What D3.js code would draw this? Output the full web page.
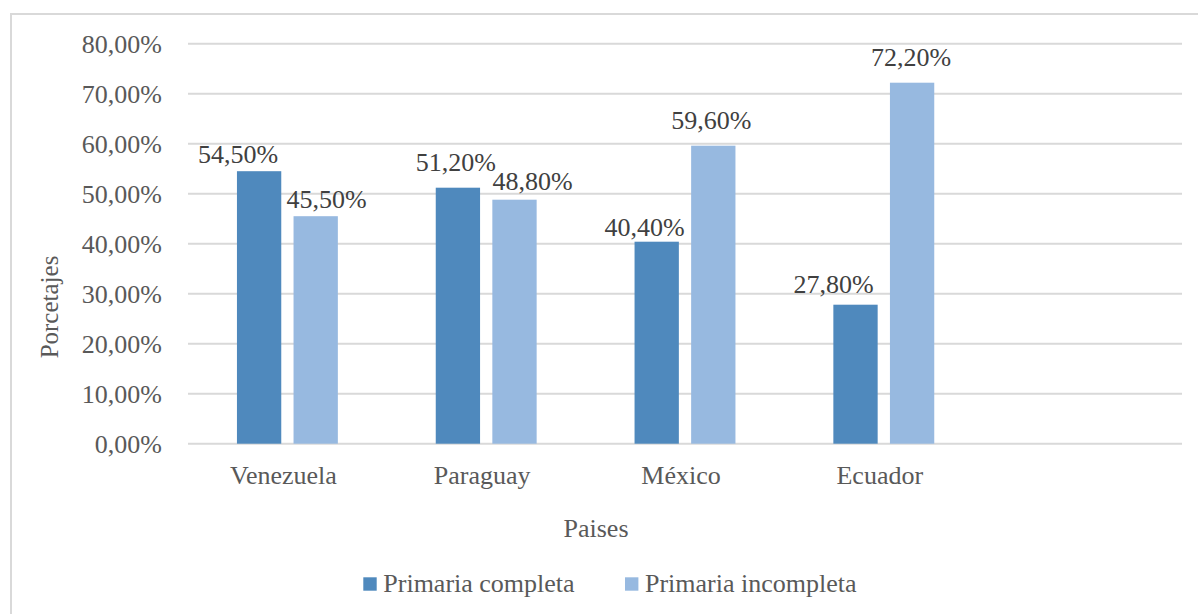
<!DOCTYPE html>
<html>
<head>
<meta charset="utf-8">
<script src="https://cdn.jsdelivr.net/npm/d3@7/dist/d3.min.js"></script>
<style>
  html, body { margin: 0; padding: 0; background: #ffffff; }
  svg { display: block; }
  text { font-family: "Liberation Serif", "Times New Roman", serif; }
</style>
</head>
<body>
<svg id="chart" width="1198" height="614"></svg>
<script>
// ---- data ----
const categories = ["Venezuela", "Paraguay", "México", "Ecuador", ""];
const seriesNames = ["Primaria completa", "Primaria incompleta"];
const completa = [0.545, 0.512, 0.404, 0.278];
const incompleta = [0.455, 0.488, 0.596, 0.722];
const yTicks = [0, 0.1, 0.2, 0.3, 0.4, 0.5, 0.6, 0.7, 0.8];
// manual label nudges (as in the original chart)
const labelDxCompleta = [-21, -2, -12, -22];
const labelDxIncompleta = [11, 18, -2, -1];
const labelDyCompleta = [-8, -17, -6, -12];
const labelDyIncompleta = [-8, -10, -17, -17];

const colors = ["#4f89bd", "#97b9e0"];

const svg = d3.select("#chart");
const W = 1198, H = 614;
const plotLeft = 188, plotRight = 1182, plotTop = 43.7, plotBottom = 443.7;

svg.append("rect").attr("x", 0).attr("y", 0).attr("width", W).attr("height", H).attr("fill", "#fff");
// outer chart border
svg.append("rect").attr("x", 11).attr("y", 14).attr("width", W + 20).attr("height", H + 20)
  .attr("fill", "none").attr("stroke", "#d9d9d9").attr("stroke-width", 2);

const locale = d3.formatLocale({decimal: ",", thousands: ".", grouping: [3], currency: ["", "€"]});
const fmt = locale.format(".2%");

const x0 = d3.scaleBand().domain(categories).range([plotLeft, plotRight]).padding(0);
const x1 = d3.scaleBand().domain(seriesNames).range([0, x0.bandwidth()])
  .paddingInner(0.217).paddingOuter(0.865);
const y = d3.scaleLinear().domain([0, 0.8]).range([plotBottom, plotTop]);

// gridlines
svg.append("g").selectAll("line").data(yTicks).join("line")
  .attr("x1", plotLeft).attr("x2", plotRight)
  .attr("y1", d => y(d)).attr("y2", d => y(d))
  .attr("stroke", "#d9d9d9").attr("stroke-width", 2);

// y tick labels
const yAxis = d3.axisLeft(y).tickValues(yTicks).tickFormat(fmt).tickSize(0).tickPadding(0);
const gy = svg.append("g").attr("transform", `translate(162,0)`).call(yAxis);
gy.select(".domain").remove();
gy.selectAll("text").attr("font-size", 26).attr("fill", "#595959")
  .attr("font-family", "Liberation Serif, Times New Roman, serif")
  .attr("dy", "0.34em");

// x labels
const xAxis = d3.axisBottom(x0).tickSize(0).tickPadding(0);
const gx = svg.append("g").attr("transform", `translate(-4,${plotBottom})`).call(xAxis);
gx.select(".domain").remove();
gx.selectAll("text").attr("font-size", 26).attr("fill", "#595959")
  .attr("font-family", "Liberation Serif, Times New Roman, serif")
  .attr("y", 40).attr("dy", 0);

// bars
const seriesData = [completa, incompleta];
const dxs = [labelDxCompleta, labelDxIncompleta];
const dys = [labelDyCompleta, labelDyIncompleta];
seriesData.forEach((vals, si) => {
  const g = svg.append("g");
  g.selectAll("rect").data(vals).join("rect")
    .attr("x", (d, i) => x0(categories[i]) + x1(seriesNames[si]))
    .attr("y", d => y(d))
    .attr("width", x1.bandwidth())
    .attr("height", d => y(0) - y(d))
    .attr("fill", colors[si]);
  g.selectAll("text").data(vals).join("text")
    .attr("x", (d, i) => x0(categories[i]) + x1(seriesNames[si]) + x1.bandwidth() / 2 + dxs[si][i])
    .attr("y", (d, i) => y(d) + dys[si][i])
    .attr("text-anchor", "middle")
    .attr("font-size", 26).attr("fill", "#404040")
    .text(d => fmt(d));
});

// axis titles
svg.append("text").attr("x", 596).attr("y", 536.5).attr("text-anchor", "middle")
  .attr("font-size", 26).attr("fill", "#595959").text("Paises");
svg.append("text").attr("transform", "translate(58,307) rotate(-90)").attr("text-anchor", "middle")
  .attr("font-size", 25).attr("fill", "#595959").text("Porcetajes");

// legend
const legX = [363.3, 625];
const lg = svg.append("g");
seriesNames.forEach((name, i) => {
  lg.append("rect").attr("x", legX[i]).attr("y", 577.3).attr("width", 13.4).attr("height", 13.4).attr("fill", colors[i]);
  lg.append("text").attr("x", legX[i] + 20).attr("y", 591.5).attr("font-size", 26).attr("fill", "#595959").text(name);
});
</script>
</body>
</html>
